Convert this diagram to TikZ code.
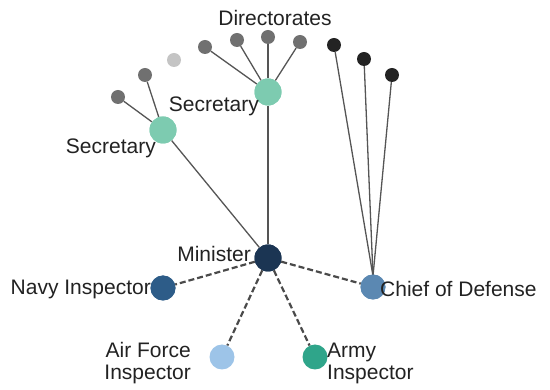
\documentclass[tikz,border=0pt]{standalone}
\usepackage{fontspec}
\setmainfont{Liberation Sans}
\begin{document}
\begin{tikzpicture}[x=1pt,y=-1pt,
  big/.style={circle,inner sep=0pt,minimum size=27pt},
  mid/.style={circle,inner sep=0pt,minimum size=25pt},
  small/.style={circle,inner sep=0pt,minimum size=14pt},
  link/.style={draw=linkgray,line width=1.3pt},
  dlink/.style={draw=dashgray,line width=2.2pt,dash pattern=on 6pt off 3pt},
  lbl/.style={font=\fontsize{21}{22}\selectfont,text=txt,inner sep=0pt}]
\definecolor{txt}{HTML}{222222}
\definecolor{linkgray}{HTML}{555555}
\definecolor{dashgray}{HTML}{4a4a4a}
\definecolor{minc}{HTML}{1B3553}
\definecolor{navyc}{HTML}{2D5C88}
\definecolor{chiefc}{HTML}{5B88B2}
\definecolor{airc}{HTML}{9DC4E8}
\definecolor{armyc}{HTML}{2FA58A}
\definecolor{secc}{HTML}{7DCBB0}
\definecolor{dirc}{HTML}{707070}
\definecolor{fadec}{HTML}{C4C4C4}
\definecolor{blk}{HTML}{232323}
\useasboundingbox (0,0) rectangle (550,390);
% nodes
\node[big,fill=minc] (min) at (268,258) {};
\node[mid,fill=navyc] (navy) at (163,288) {};
\node[mid,fill=chiefc] (chief) at (373,287) {};
\node[mid,fill=airc] (air) at (222,357) {};
\node[mid,fill=armyc] (army) at (315,357) {};
\node[big,fill=secc] (sa) at (163,130) {};
\node[big,fill=secc] (sb) at (268,92) {};
\node[small,fill=dirc] (la) at (118,97) {};
\node[small,fill=dirc] (lb) at (145,75) {};
\node[small,fill=fadec] (lc) at (174,60) {};
\node[small,fill=dirc] (da) at (205,47) {};
\node[small,fill=dirc] (db) at (237,40) {};
\node[small,fill=dirc] (dc) at (268,37) {};
\node[small,fill=dirc] (dd) at (300,42) {};
\node[small,fill=blk] (ba) at (334,45) {};
\node[small,fill=blk] (bb) at (364,59) {};
\node[small,fill=blk] (bc) at (392,75) {};
\coordinate (ct) at (373,276);
% connectors
\path[link] (sa) -- (min);
\path[link] (sb) -- (min);
\path[link] (la) -- (sa);
\path[link] (lb) -- (sa);
\path[link] (da) -- (sb);
\path[link] (db) -- (sb);
\path[link] (dc) -- (sb);
\path[link] (dd) -- (sb);
\path[link] (ba) -- (ct);
\path[link] (bb) -- (ct);
\path[link] (bc) -- (ct);
\path[dlink] (min) -- (navy);
\path[dlink] (min) -- (chief);
\path[dlink] (min) -- (air);
\path[dlink] (min) -- (army);
% redraw nodes on top
\node[big,fill=minc] at (min) {};
\node[mid,fill=navyc] at (navy) {};
\node[mid,fill=chiefc] at (chief) {};
\node[big,fill=secc] at (sa) {};
\node[big,fill=secc] at (sb) {};
% labels
\node[lbl] (tdir) at (275,18) {Directorates};
\node[lbl,anchor=east] (tsb) at (259,106) {Secretary};
\node[lbl,anchor=east] (tsa) at (156,148) {Secretary};
\node[lbl,anchor=east] (tmin) at (251,254) {Minister};
\node[lbl,anchor=east] (tnavy) at (151,289) {Navy Inspector};
\node[lbl,anchor=west] (tchief) at (380,289) {Chief of Defense};
\node[lbl,anchor=east,align=right] (tair) at (191,363) {Air Force\\Inspector};
\node[lbl,anchor=west,align=left] (tarmy) at (327,363) {Army\\Inspector};
\end{tikzpicture}
\end{document}
